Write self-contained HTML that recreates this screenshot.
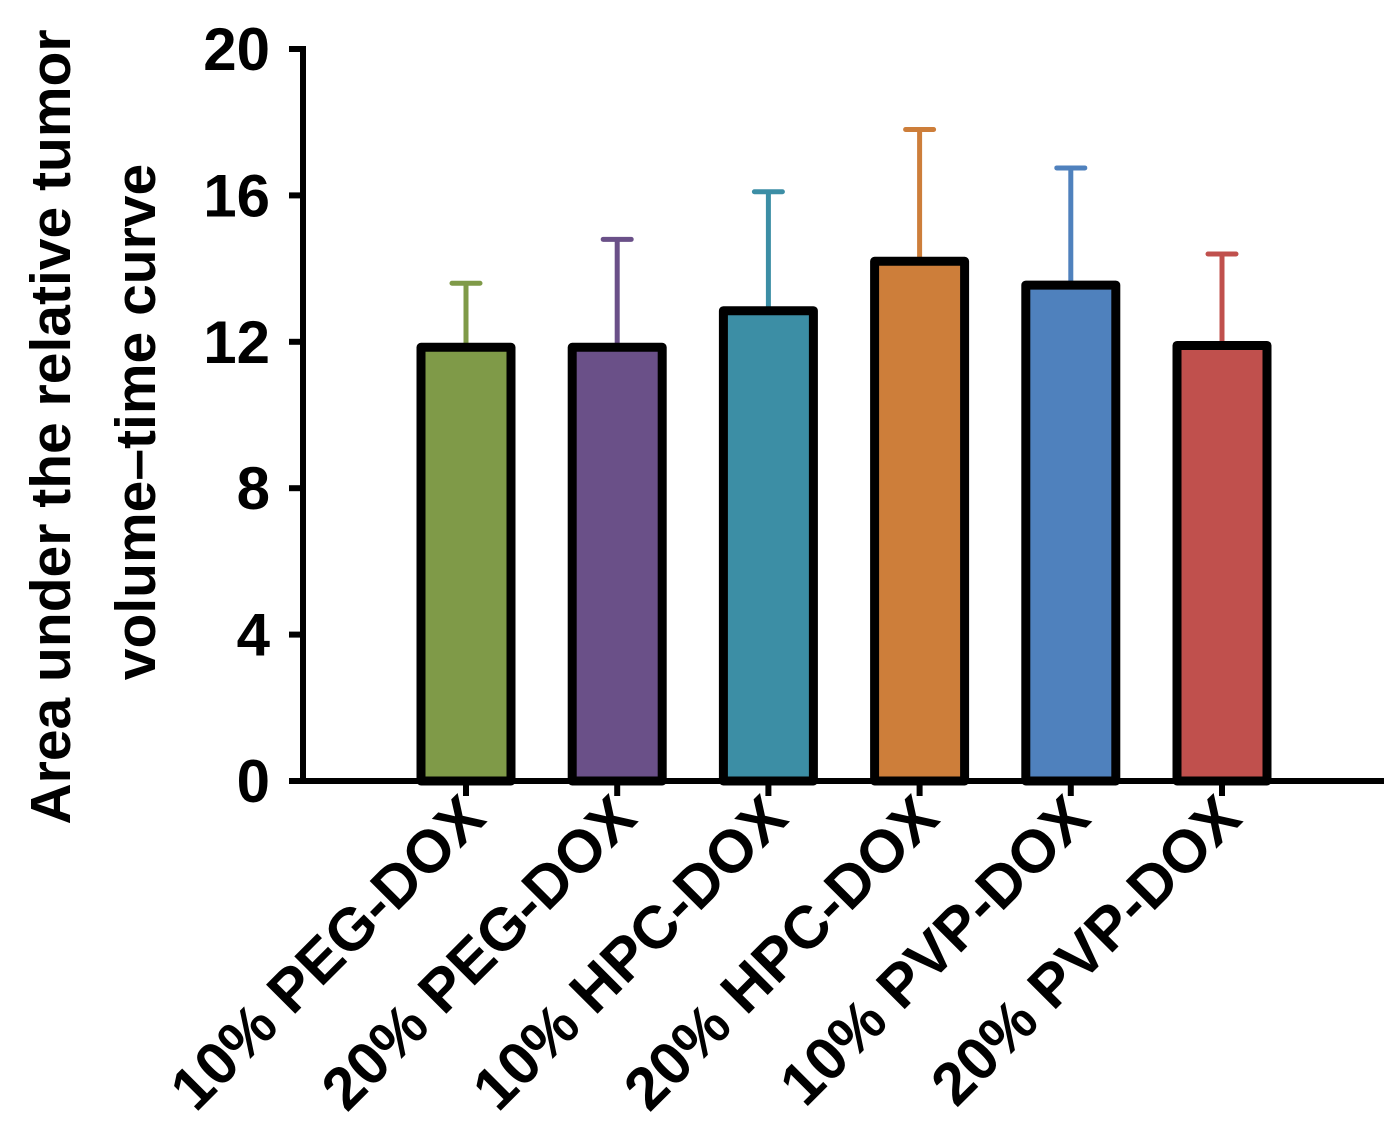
<!DOCTYPE html>
<html><head><meta charset="utf-8"><style>
body{margin:0;background:#fff;}
svg{display:block;font-family:"Liberation Sans",Arial,sans-serif;font-weight:bold;}
</style></head><body>
<svg id="chart" width="1397" height="1144">
<g id="yaxis"></g>
<g id="bars"></g>
<g id="xaxis"></g>
<text transform="translate(70,427) rotate(-90)" text-anchor="middle" font-size="57">Area under the relative tumor</text>
<text transform="translate(155,422) rotate(-90)" text-anchor="middle" font-size="57">volume–time curve</text>
</svg>
<script>
const categories=["10% PEG-DOX","20% PEG-DOX","10% HPC-DOX","20% HPC-DOX","10% PVP-DOX","20% PVP-DOX"];
const values=[11.85,11.85,12.85,14.2,13.55,11.9];
const errors=[1.75,2.95,3.25,3.6,3.2,2.5];
const colors=["#7f9a48","#6a5088","#3c8ea5","#cd7e3a","#4f81bd","#c0504d"];
const yTicks=[0,4,8,12,16,20];
const NS="http://www.w3.org/2000/svg";
const y0=781,yTop=49,ymax=20;
const y=v=>y0-(y0-yTop)*v/ymax;
const x=i=>466+i*151.2;
function mk(tag,attrs,parent){const e=document.createElementNS(NS,tag);for(const k in attrs)e.setAttribute(k,attrs[k]);parent.appendChild(e);return e;}
const ya=document.getElementById('yaxis'),bg=document.getElementById('bars'),xa=document.getElementById('xaxis');
let l=mk('line',{x1:303,y1:y(20)-3,x2:303,y2:y0+3,stroke:'#000','stroke-width':6},ya);


yTicks.forEach(t=>{
 let tk=mk('line',{x1:289,x2:303,y1:y(t),y2:y(t),stroke:'#000','stroke-width':6},ya);
 
 
 let tx=mk('text',{x:270,y:y(t)+21,'text-anchor':'end','font-size':60,'textLength':null},ya);
 tx.removeAttribute('textLength');
 tx.textContent=t;
 
 
});
categories.forEach((c,i)=>{
 const cx=x(i),top=y(values[i]),et=y(values[i]+errors[i]);
 let el=mk('line',{x1:cx,x2:cx,y1:top,y2:et,stroke:colors[i],'stroke-width':5},bg);
 
 
 let cap=mk('line',{x1:cx-14,x2:cx+14,y1:et,y2:et,stroke:colors[i],'stroke-width':5,'stroke-linecap':'round'},bg);
 
 
 let r=mk('rect',{x:cx-45,y:top,width:90,height:y0-top,fill:colors[i],stroke:'#000','stroke-width':9,'stroke-linejoin':'round'},bg);
 
 
 let tk=mk('line',{x1:cx,x2:cx,y1:y0,y2:y0+15,stroke:'#000','stroke-width':6},xa);
 
 
 let tx=mk('text',{transform:`translate(${cx+22},${y0+40}) rotate(-45)`,'text-anchor':'end','font-size':60},xa);
 tx.textContent=c;
 
 
});
let xl=mk('line',{x1:300,x2:1384,y1:y0,y2:y0,stroke:'#000','stroke-width':6},xa);


</script>
</body></html>
